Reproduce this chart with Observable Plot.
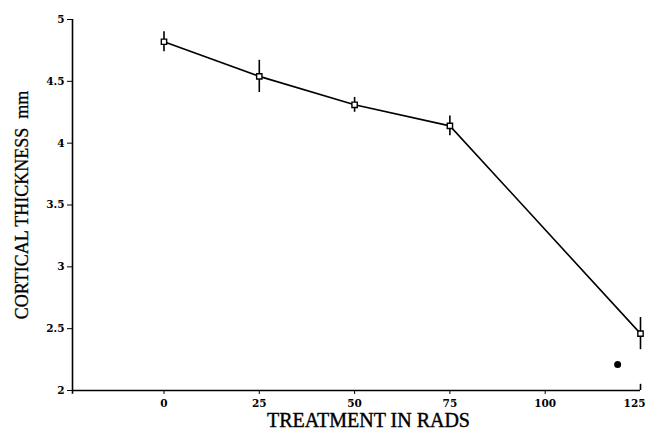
<!DOCTYPE html>
<html><head><meta charset="utf-8">
<script src="https://cdn.jsdelivr.net/npm/d3@7"></script>
<script src="https://cdn.jsdelivr.net/npm/@observablehq/plot@0.6"></script>
<style>body{margin:0;background:#fff}</style>
</head><body><div id="chart"></div>
<script>
const rads = [0, 25, 50, 75, 125];
const thickness = [4.82, 4.54, 4.31, 4.14, 2.46];
const errLow = [4.74, 4.41, 4.25, 4.06, 2.33];
const errHigh = [4.90, 4.67, 4.37, 4.22, 2.59];
const strayX = [119];
const strayY = [2.21];
const xTicks = [0, 25, 50, 75, 100, 125];
const yTicks = [2, 2.5, 3, 3.5, 4, 4.5, 5];

const data = rads.map((r, i) => ({r, t: thickness[i], lo: errLow[i], hi: errHigh[i]}));
const stray = strayX.map((x, i) => ({x, y: strayY[i]}));
const lastTick = xTicks[xTicks.length - 1];
const innerTicks = xTicks.slice(0, -1);

const chart = Plot.plot({
  width: 645, height: 431,
  marginLeft: 72, marginRight: 5, marginTop: 19, marginBottom: 41,
  style: {fontFamily: "DejaVu Serif", background: "#fff", color: "#000"},
  x: {domain: [-24, 125], ticks: xTicks, tickFormat: d => d},
  y: {domain: [2, 5], ticks: yTicks, tickFormat: d => d},
  marks: [
    Plot.ruleX([-24], {y1: 1.97, y2: 5, stroke: "#000", strokeWidth: 1.6}),
    Plot.ruleY([2], {x1: -24, x2: 125, stroke: "#000", strokeWidth: 1.6}),
    Plot.ruleX([lastTick], {y1: 2, y2: 2.05, stroke: "#000", strokeWidth: 1.6}),
    Plot.axisX({ticks: innerTicks, tickSize: 4, tickPadding: 5, fontSize: 10.5, fontWeight: "bold", label: null, tickFormat: d => d}),
    Plot.axisX({ticks: [lastTick], tickSize: 0, tickPadding: 9, fontSize: 10.5, fontWeight: "bold", label: null, textAnchor: "end", dx: 5, tickFormat: d => d}),
    Plot.axisY({ticks: yTicks, tickSize: 5, tickPadding: 3, fontSize: 10.5, fontWeight: "bold", label: null, tickFormat: d => d}),
    Plot.text(["TREATMENT IN RADS"], {frameAnchor: "bottom", dx: 12, dy: 36, fontSize: 20, fontFamily: "Liberation Serif", fill: "#000", stroke: "#000", strokeWidth: 0.4}),
    Plot.text(["CORTICAL THICKNESS  mm"], {frameAnchor: "left", textAnchor: "middle", dx: -50, rotate: -90, fontSize: 18, fontFamily: "Liberation Serif", fill: "#000", stroke: "#000", strokeWidth: 0.3}),
    Plot.ruleX(data, {x: "r", y1: "lo", y2: "hi", stroke: "#000", strokeWidth: 1.6}),
    Plot.line(data, {x: "r", y: "t", stroke: "#000", strokeWidth: 1.6}),
    Plot.dot(data, {x: "r", y: "t", symbol: "square", r: 3, fill: "#fff", stroke: "#000", strokeWidth: 1.4}),
    Plot.dot(stray, {x: "x", y: "y", r: 3.5, fill: "#000", stroke: "none"})
  ]
});
document.getElementById("chart").appendChild(chart);
</script>
</body></html>
